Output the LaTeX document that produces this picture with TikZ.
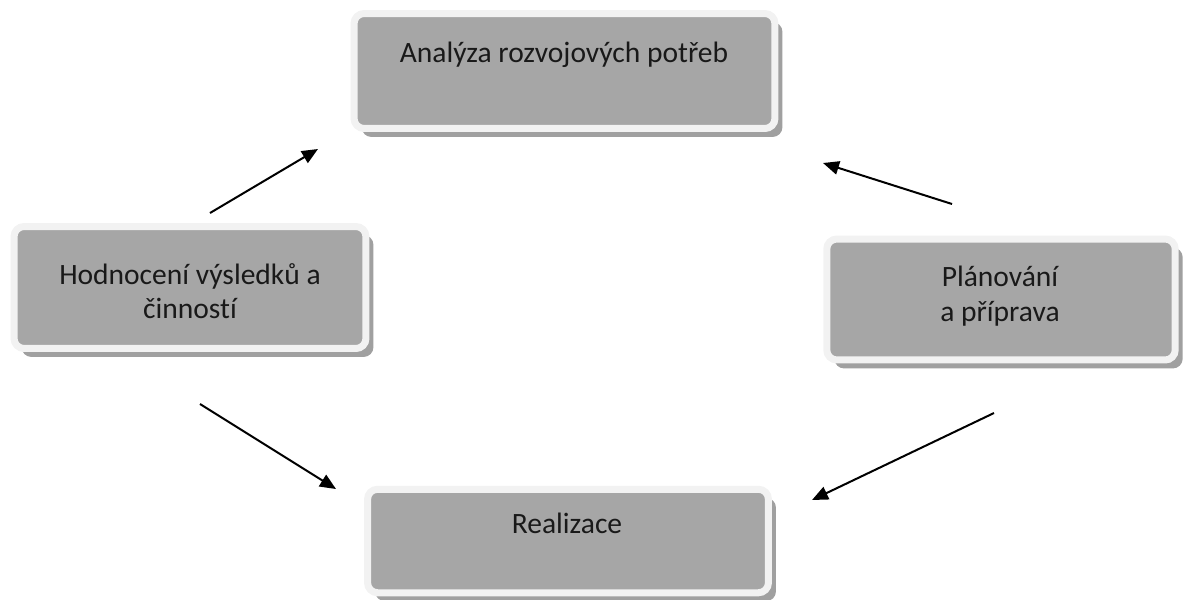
\documentclass[tikz,border=0pt]{standalone}
\usepackage{fontspec}
\setmainfont{Carlito}[Ligatures={NoCommon}]
\usepackage{xcolor}
\usetikzlibrary{positioning,arrows.meta,shadows}

\definecolor{boxgray}{HTML}{A6A6A6}
\definecolor{rimwhite}{HTML}{F2F2F2}
\definecolor{shadegray}{HTML}{A0A0A0}

\begin{document}
\begin{tikzpicture}[x=0.02cm,y=-0.02cm,
    stagebox/.style={draw=rimwhite, fill=boxgray, line width=0.14cm, rounded corners=0.2cm,
        drop shadow={shadow xshift=0.15cm, shadow yshift=-0.17cm, fill=shadegray, opacity=1}},
    stagetext/.style={align=center, text=black!90, font=\fontsize{16.8}{19.5}\selectfont},
    cyclearrow/.style={-{Triangle[length=0.32cm,width=0.27cm]}, line width=0.04cm}]
        \useasboundingbox (0,0) rectangle (1186,599);

        % boxes
        \node[stagebox, minimum width=8.42cm, minimum height=2.3cm] (ana) at (564.5,71) {};
        \node[stagebox, minimum width=6.97cm, minimum height=2.42cm] (plan) at (1001,299.5) {};
        \node[stagebox, minimum width=8.02cm, minimum height=2.07cm] (real) at (568,541) {};
        \node[stagebox, minimum width=7.04cm, minimum height=2.44cm] (hod) at (190,287.5) {};

        % texts
        \node[stagetext] (anatext) at (564,55) {Analýza rozvojových potřeb};
        \node[stagetext] (plantext) at (1000,296) {Plánování\\a příprava};
        \node[stagetext] (realtext) at (567,523) {Realizace};
        \node[stagetext] (hodtext) at (190,291) {Hodnocení výsledků a\\činností};

        % arrow ends
        \coordinate (hodout) at (210,213);
        \coordinate (anain) at (318,149);
        \coordinate (planout) at (952,204);
        \coordinate (anain2) at (823,163);
        \coordinate (hodin) at (200,404);
        \coordinate (realin) at (336,489);
        \coordinate (realout) at (994,413);
        \coordinate (realin2) at (812,500);

        \draw[cyclearrow] (hodout) -- (anain); % Hodnoceni -> Analyza
        \draw[cyclearrow] (planout) -- (anain2);
        \draw[cyclearrow] (hodin) -- (realin);
        \draw[cyclearrow] (realout) -- (realin2);
\end{tikzpicture}
\end{document}
